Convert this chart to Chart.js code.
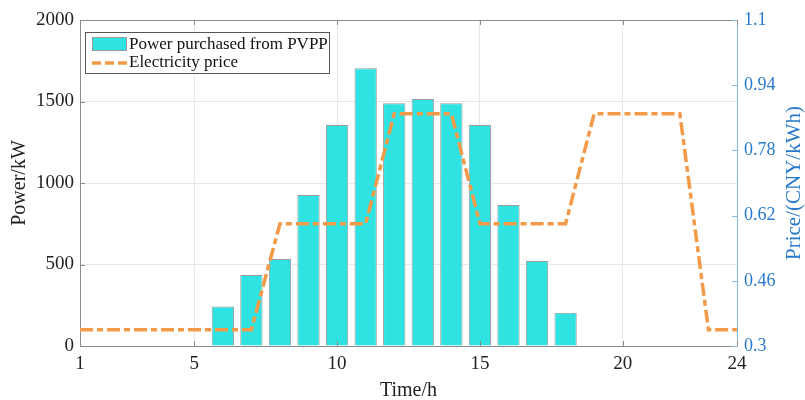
<!DOCTYPE html>
<html>
<head>
<meta charset="utf-8">
<script src="https://cdn.jsdelivr.net/npm/chart.js@4.4.1/dist/chart.umd.min.js"></script>
<style>
  body { margin: 0; background: #fff; }
  #wrap { width: 805px; height: 400px; position: relative; }
</style>
</head>
<body>
<div id="wrap"><canvas id="grafica"></canvas></div>
<script>
const horas = [1, 2, 3, 4, 5, 6, 7, 8, 9, 10, 11, 12, 13, 14, 15, 16, 17, 18, 19, 20, 21, 22, 23, 24]
const potencia = [0, 0, 0, 0, 0, 243, 436, 534, 926, 1356, 1704, 1489, 1515, 1489, 1356, 865, 521, 204, 4, 0, 0, 0, 0, 0]
const precio = [0.34, 0.34, 0.34, 0.34, 0.34, 0.34, 0.34, 0.6, 0.6, 0.6, 0.6, 0.87, 0.87, 0.87, 0.6, 0.6, 0.6, 0.6, 0.87, 0.87, 0.87, 0.87, 0.34, 0.34]
const ticksX = [1, 5, 10, 15, 20, 24]
const ticksPrecio = [0.3, 0.46, 0.62, 0.78, 0.94, 1.1]

const serif = "'Liberation Serif', 'Times New Roman', serif"
const azul = "#2a7acb"
const cian = "#2ee3e1"
const naranja = "#f39a48"

// ticks hacia dentro, caja superior, leyenda y titulo derecho
const extras = {
  id: "extras",
  afterDraw(chart) {
    let ctx = chart.ctx
    let a = chart.chartArea
    let sx = chart.scales.x, sy = chart.scales.y, s1 = chart.scales.y1
    ctx.save()
    ctx.lineWidth = 1
    ctx.strokeStyle = "#8c8c8c"
    ctx.beginPath()
    ctx.moveTo(a.left, a.top + 0.5)
    ctx.lineTo(a.right, a.top + 0.5)
    for (let v of ticksX) {
      let px = Math.round(sx.getPixelForValue(v)) + 0.5
      ctx.moveTo(px, a.bottom)
      ctx.lineTo(px, a.bottom - 5)
      ctx.moveTo(px, a.top)
      ctx.lineTo(px, a.top + 5)
    }
    for (let t of sy.ticks) {
      let py = Math.round(sy.getPixelForValue(t.value)) + 0.5
      ctx.moveTo(a.left, py)
      ctx.lineTo(a.left + 5, py)
    }
    ctx.stroke()
    ctx.strokeStyle = "#86bbec"
    ctx.beginPath()
    for (let v of ticksPrecio) {
      let py = Math.round(s1.getPixelForValue(v)) + 0.5
      ctx.moveTo(a.right, py)
      ctx.lineTo(a.right - 5, py)
    }
    ctx.stroke()

    // leyenda
    let ds = chart.data.datasets
    ctx.fillStyle = "#fff"
    ctx.fillRect(85, 32, 244, 41)
    ctx.strokeStyle = "#555"
    ctx.strokeRect(85.5, 32.5, 244, 41)
    ctx.fillStyle = cian
    ctx.fillRect(92, 37, 35, 14)
    ctx.strokeStyle = "#9a9a9a"
    ctx.strokeRect(92.5, 37.5, 34, 13)
    ctx.strokeStyle = naranja
    ctx.lineWidth = 3.5
    ctx.setLineDash([9, 4])
    ctx.beginPath()
    ctx.moveTo(92, 63)
    ctx.lineTo(127, 63)
    ctx.stroke()
    ctx.setLineDash([])
    ctx.fillStyle = "#111"
    ctx.font = "17px " + serif
    ctx.textBaseline = "middle"
    ctx.textAlign = "left"
    ctx.fillText(ds[0].label, 129, 45)
    ctx.fillText(ds[1].label, 129, 63)

    // titulo del eje derecho
    ctx.translate(794, (a.top + a.bottom) / 2)
    ctx.rotate(-Math.PI / 2)
    ctx.textAlign = "center"
    ctx.fillStyle = azul
    ctx.font = "21px " + serif
    ctx.fillText("Price/(CNY/kWh)", 0, 0)
    ctx.restore()
  }
}

let ctx = document.getElementById("grafica").getContext("2d")
new Chart(ctx, {
  type: "bar",
  data: {
    datasets: [{
      type: "bar",
      label: "Power purchased from PVPP",
      data: horas.map((h, i) => ({ x: h, y: potencia[i] })),
      backgroundColor: cian,
      borderColor: "#9a9a9a",
      borderWidth: 1,
      barPercentage: 0.78,
      categoryPercentage: 1,
      yAxisID: "y",
      order: 2
    }, {
      type: "line",
      label: "Electricity price",
      data: horas.map((h, i) => ({ x: h, y: precio[i] })),
      borderColor: naranja,
      borderWidth: 3.5,
      borderDash: [13, 4, 6, 4],
      pointRadius: 0,
      fill: false,
      tension: 0,
      yAxisID: "y1",
      order: 1
    }]
  },
  options: {
    responsive: true,
    maintainAspectRatio: false,
    animation: false,
    layout: { padding: { top: 20, left: 0, right: 0, bottom: 0 } },
    plugins: { legend: { display: false }, tooltip: { enabled: false } },
    scales: {
      x: {
        type: "linear",
        min: 1,
        max: 24,
        offset: false,
        grid: { color: "#e8e8e8", drawTicks: false, offset: false },
        border: { color: "#8c8c8c" },
        afterBuildTicks: s => { s.ticks = ticksX.map(v => ({ value: v })) },
        afterFit: s => { s.height = 54 },
        ticks: { color: "#222", font: { family: serif, size: 19 }, padding: 7, maxRotation: 0 },
        title: { display: true, text: "Time/h", color: "#222", font: { family: serif, size: 20 }, padding: { top: 0, bottom: -3 } }
      },
      y: {
        position: "left",
        min: 0,
        max: 2000,
        grid: { color: "#e8e8e8", drawTicks: false },
        border: { color: "#8c8c8c" },
        afterFit: s => { s.width = 80 },
        ticks: { stepSize: 500, color: "#222", font: { family: serif, size: 19 }, padding: 6, callback: v => String(v) },
        title: { display: true, text: "Power/kW", color: "#222", font: { family: serif, size: 20 }, padding: { top: 8, bottom: 0 } }
      },
      y1: {
        position: "right",
        min: 0.3,
        max: 1.1,
        grid: { display: false, drawTicks: false },
        border: { color: "#86bbec" },
        afterBuildTicks: s => { s.ticks = ticksPrecio.map(v => ({ value: v })) },
        afterFit: s => { s.width = 68 },
        ticks: { color: azul, font: { family: serif, size: 18 }, padding: 7, callback: v => String(v) }
      }
    }
  },
  plugins: [extras]
})
</script>
</body>
</html>
